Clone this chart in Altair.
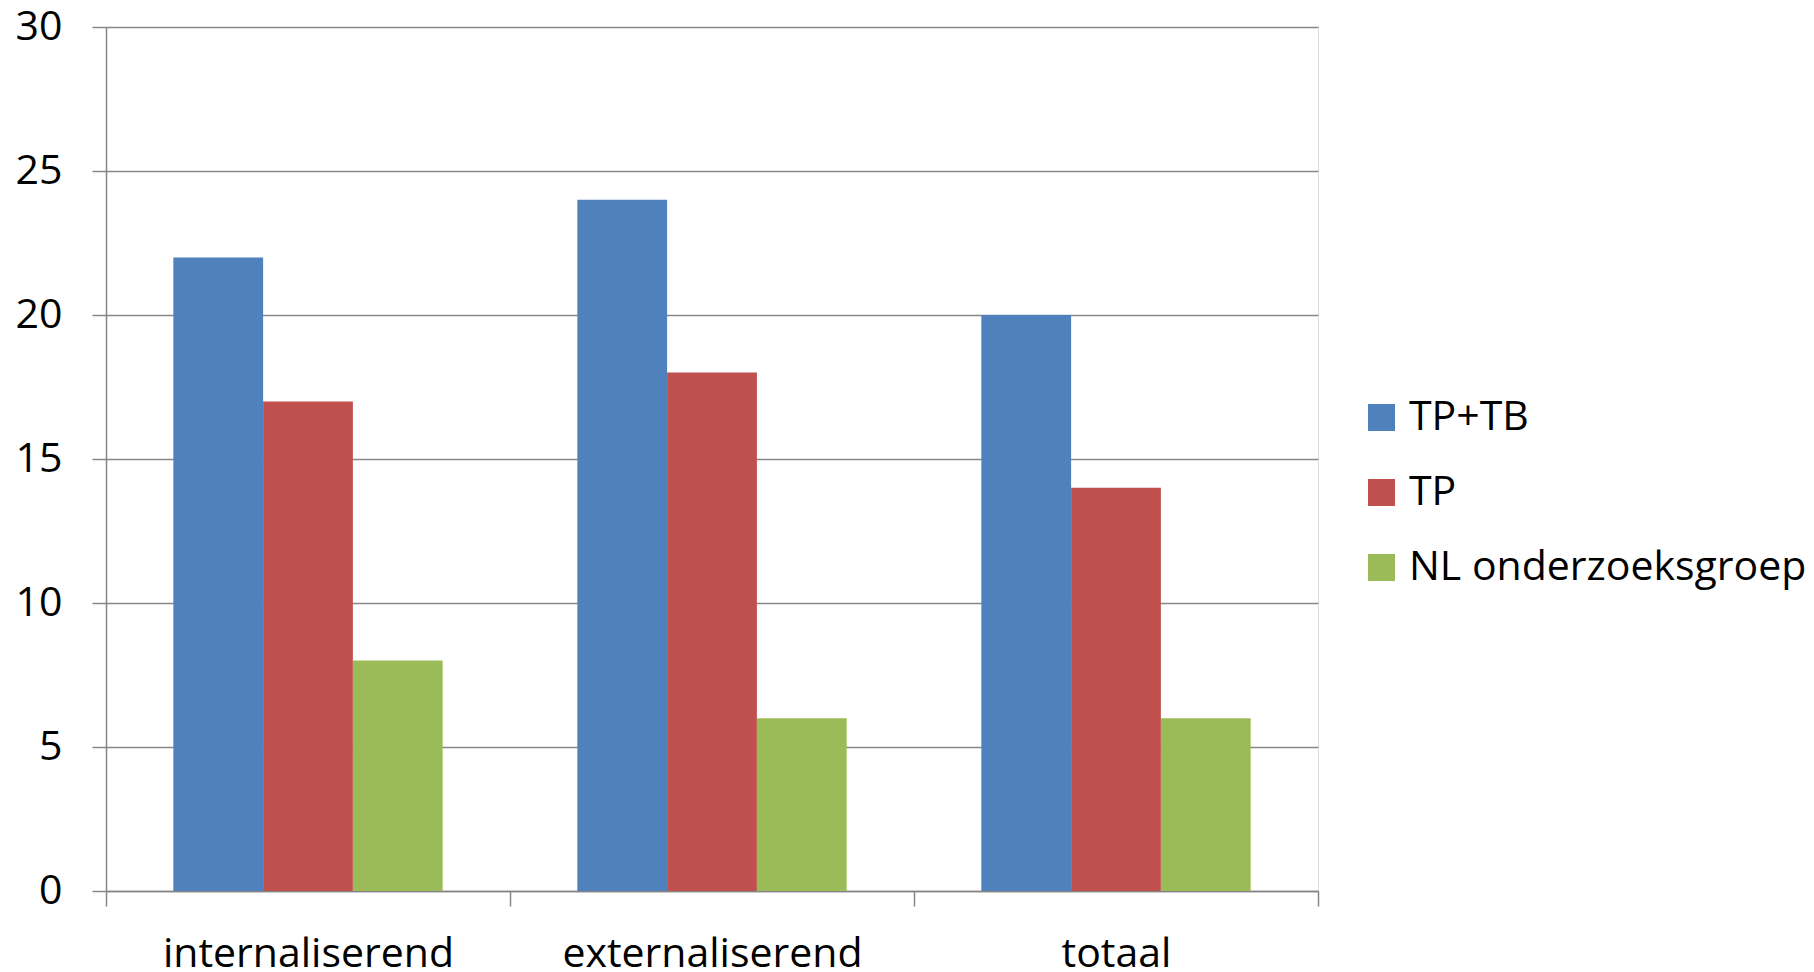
import altair as alt
import pandas as pd

categories = ["internaliserend", "externaliserend", "totaal"]
series = ["TP+TB", "TP", "NL onderzoeksgroep"]
tp_tb = [22, 24, 20]
tp = [17, 18, 14]
nl = [8, 6, 6]
colors = ["#4F81BD", "#C0504D", "#9BBB59"]
y_ticks = [0, 5, 10, 15, 20, 25, 30]

rows = []
for i, c in enumerate(categories):
    for s, vals in zip(series, [tp_tb, tp, nl]):
        rows.append({"categorie": c, "groep": s, "waarde": vals[i]})
df = pd.DataFrame(rows)

W, H = 1212, 864
FONT = "Open Sans"
GRAY = "#868686"

bars = alt.Chart(df).mark_bar(stroke=None).encode(
    x=alt.X("categorie:N", sort=categories, title=None,
            scale=alt.Scale(paddingInner=0, paddingOuter=0),
            axis=alt.Axis(labelAngle=0, labelFont=FONT, labelFontSize=41,
                          labelColor="black", labelPadding=28, labelLimit=0,
                          tickBand="extent", tickSize=15, tickColor=GRAY,
                          tickWidth=1.5, domainColor=GRAY, domainWidth=1.5,
                          grid=False, labelBaseline="top")),
    xOffset=alt.XOffset("groep:N", sort=series,
                        scale=alt.Scale(paddingInner=0, paddingOuter=0.75)),
    y=alt.Y("waarde:Q", title=None,
            scale=alt.Scale(domain=[0, 30], nice=False),
            axis=alt.Axis(values=y_ticks, labelFont=FONT, labelFontSize=41,
                          labelColor="black", labelPadding=30, tickSize=14,
                          tickColor=GRAY, tickWidth=1.5, domainColor=GRAY,
                          domainWidth=1.5, grid=True, gridColor=GRAY,
                          gridWidth=1.5)),
    color=alt.Color("groep:N", sort=series,
                    scale=alt.Scale(domain=series, range=colors),
                    legend=alt.Legend(title=None, orient="none",
                                      legendX=1255, legendY=370,
                                      labelFont=FONT, labelFontSize=41,
                                      labelColor="black", labelOffset=7,
                                      symbolType="square", symbolSize=729,
                                      symbolStrokeWidth=0, rowPadding=33,
                                      padding=0, labelLimit=0)),
)

chart = bars.properties(
    width=W, height=H,
    autosize=alt.AutoSizeParams(type="none"),
    padding={"left": 98, "top": 19, "right": 488, "bottom": 80},
).configure_view(stroke=None).configure(background="white")

chart.save("out.html", embed_options={"renderer": "svg", "actions": False})
